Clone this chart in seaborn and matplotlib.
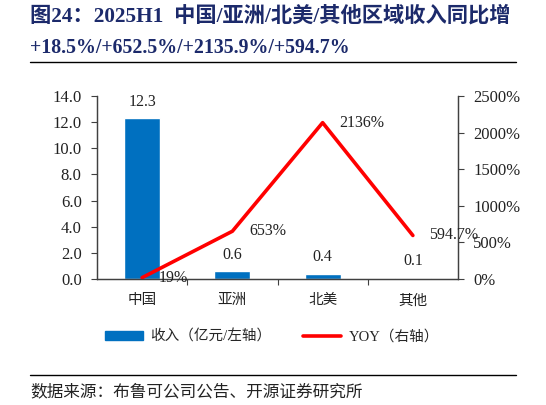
import matplotlib
matplotlib.use("Agg")
import matplotlib.pyplot as plt
import seaborn as sns
import pandas as pd
from matplotlib.ticker import FixedLocator, FuncFormatter
from matplotlib.patches import Patch
from matplotlib.lines import Line2D

categories = ["中国", "亚洲", "北美", "其他"]
revenue = [12.3, 0.6, 0.4, 0.1]
yoy = [18.5, 652.5, 2135.9, 594.7]
rev_labels = ["12.3", "0.6", "0.4", "0.1"]
yoy_labels = ["19%", "653%", "2136%", "594.7%"]
title_l1 = "图24：2025H1  中国/亚洲/北美/其他区域收入同比增"
title_l2 = "+18.5%/+652.5%/+2135.9%/+594.7%"
legend_labels = ["收入（亿元/左轴）", "YOY（右轴）"]
source = "数据来源：布鲁可公司公告、开源证券研究所"

sns.set_theme(style="white")
FAM = ["Liberation Serif", "Noto Sans CJK SC", "DejaVu Sans"]
plt.rcParams["font.family"] = FAM
plt.rcParams["axes.unicode_minus"] = False

BLUE = "#0070C0"
RED = "#FF0000"
AXC = "#404040"
TXT = "#222222"

fig = plt.figure(figsize=(5.46, 4.05), dpi=100)
ax = fig.add_axes([97/546, 1-279/405, (458-97)/546, (279-96)/405])

df = pd.DataFrame({"cat": categories, "rev": revenue, "yoy": yoy})
sns.barplot(data=df, x="cat", y="rev", ax=ax, color=BLUE, width=0.4, saturation=1)
ax.set_ylim(0, 14)
ax.set_yticks([0, 2, 4, 6, 8, 10, 12, 14])
ax.yaxis.set_major_formatter(FuncFormatter(lambda v, p: f"{v:.1f}"))
ax.set_xlabel("")
ax.set_ylabel("")

for i, (v, t) in enumerate(zip(revenue, rev_labels)):
    ax.annotate(t, (i, v), xytext=(0, 6), textcoords="offset points",
                ha="center", va="bottom", fontsize=11.5, color=TXT)

ax2 = ax.twinx()
sns.lineplot(data=df, x="cat", y="yoy", ax=ax2, color=RED, linewidth=2.6, sort=False)
ax2.set_ylim(0, 2500)
ax2.set_yticks([0, 500, 1000, 1500, 2000, 2500])
ax2.yaxis.set_major_formatter(FuncFormatter(lambda v, p: f"{v:.0f}%"))
ax2.set_xlabel("")
ax2.set_ylabel("")
for i, (v, t) in enumerate(zip(yoy, yoy_labels)):
    ax2.annotate(t, (i, v), xytext=(12, 0), textcoords="offset points",
                 ha="left", va="center", fontsize=11.5, color=TXT)

ax.set_xlim(-0.5, 3.5)
ax2.set_xlim(-0.5, 3.5)

for a in (ax, ax2):
    a.spines["top"].set_visible(False)
    for s in ("left", "right", "bottom"):
        a.spines[s].set_color(AXC)
        a.spines[s].set_linewidth(0.9)
    a.grid(False)

ax.tick_params(axis="y", which="major", left=True, length=4, width=0.8, color=AXC,
               labelsize=12, labelcolor=TXT, pad=7)
ax2.tick_params(axis="y", which="major", right=True, length=4, width=0.8, color=AXC,
                labelsize=12, labelcolor=TXT, pad=7)
ax.tick_params(axis="x", which="major", length=0, labelsize=10.5, labelcolor=TXT, pad=11)
ax.xaxis.set_minor_locator(FixedLocator([0.5, 1.5, 2.5]))
ax.tick_params(axis="x", which="minor", bottom=True, length=4, width=0.8, color=AXC)

# Title
fig.text(30/546, 1-16/405, title_l1, fontsize=15.3, fontweight="bold",
         color="#1C2A6B", ha="left", va="center")
fig.text(30/546, 1-48/405, title_l2, fontsize=14.3, fontweight="bold",
         color="#1C2A6B", ha="left", va="center")
fig.add_artist(Line2D([30/546, 516/546], [1-62/405, 1-62/405], color="black", lw=1))

# Legend
handles = [Patch(facecolor=BLUE, edgecolor=BLUE),
           Line2D([0], [0], color=RED, lw=2.6)]
fig.legend(handles, legend_labels, loc="center", bbox_to_anchor=(272/546, 1-337/405),
           ncol=2, frameon=False, fontsize=10.5, handlelength=2.6, handleheight=0.55,
           columnspacing=2.2, handletextpad=0.5)

# Source
fig.add_artist(Line2D([30/546, 516/546], [1-375/405, 1-375/405], color="black", lw=1))
fig.text(30/546, 1-392/405, source, fontsize=12, color=TXT, ha="left", va="center")

fig.savefig("out.png", dpi=100)
